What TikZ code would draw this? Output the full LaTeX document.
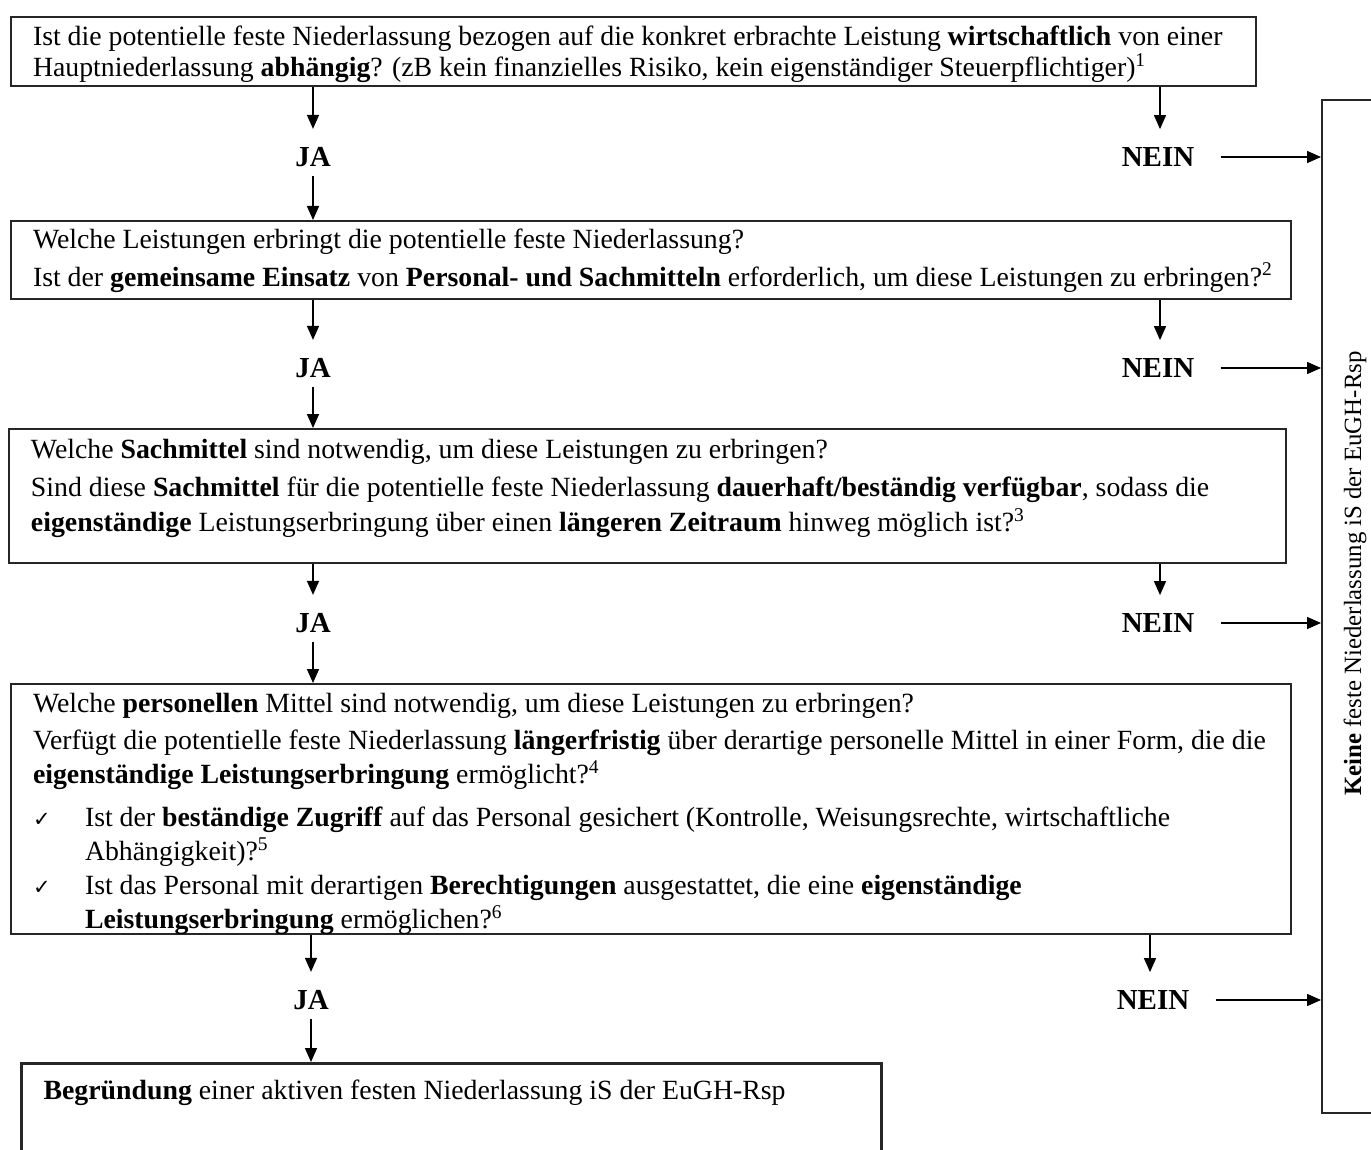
\documentclass[tikz,border=0pt]{standalone}
\usepackage{fontspec}
\setmainfont{Liberation Serif}
\newfontfamily\symfont{DejaVu Sans}
\usepackage{tikz}
\usetikzlibrary{arrows.meta,positioning}

% box content: [top gap]{height}{width}{text}
\newcommand{\feld}[4][4.4pt]{\parbox[c][#2][t]{#3}{\raggedright\leftskip=11pt\rightskip=0pt plus 1fil
  \parindent=0pt\vspace*{#1}\rule{0pt}{10pt}#4}}
\newcommand{\haken}{\makebox[26pt][l]{\symfont\fontsize{10.5}{12}\selectfont ✓}}
\newcommand{\einzug}{\hspace*{26pt}}

\begin{document}
\begin{tikzpicture}[
  x=0.5pt, y=-0.5pt,
  font=\fontsize{13.9}{15.5}\selectfont,
  frage/.style={draw=black!85,line width=1pt,anchor=north west,inner sep=0pt},
  ende/.style={frage,line width=1.6pt},
  rechts/.style={draw=black!85,line width=1pt,rotate=90,font=\fontsize{12.4}{15}\selectfont,
                 minimum width=506.5pt,minimum height=33pt},
  lbl/.style={font=\fontsize{14.5}{16}\selectfont\bfseries,inner sep=0pt},
  pfeil/.style={-{Triangle[length=7pt,width=6pt]},line width=0.75pt}]

\useasboundingbox (0,0) rectangle (1371,1150);
\clip (0,0) rectangle (1371,1150);

% ---------------- fragen ----------------
\node[frage] (q1) at (10,16) {\feld{34.5pt}{622.5pt}{%
  Ist die potentielle feste Niederlassung bezogen auf die konkret erbrachte Leistung \textbf{wirtschaftlich} von einer\\
  Hauptniederlassung \textbf{abhängig}? (zB kein finanzielles Risiko, kein eigenständiger Steuerpflichtiger)\textsuperscript{1}}};

\node[frage] (q2) at (10,220) {\feld[4pt]{39pt}{640pt}{%
  Welche Leistungen erbringt die potentielle feste Niederlassung?\\[3pt]
  Ist der \textbf{gemeinsame Einsatz} von \textbf{Personal- und Sachmitteln} erforderlich, um diese Leistungen zu erbringen?\textsuperscript{2}}};

\node[frage] (q3) at (8,428) {\feld[4.9pt]{67pt}{638.5pt}{%
  Welche \textbf{Sachmittel} sind notwendig, um diese Leistungen zu erbringen?\\[3.5pt]
  Sind diese \textbf{Sachmittel} für die potentielle feste Niederlassung \textbf{dauerhaft/beständig verfügbar}, sodass die\\[2pt]
  \textbf{eigenständige} Leistungserbringung über einen \textbf{längeren Zeitraum} hinweg möglich ist?\textsuperscript{3}}};

\node[frage] (q4) at (10,683) {\feld{125pt}{640pt}{%
  Welche \textbf{personellen} Mittel sind notwendig, um diese Leistungen zu erbringen?\\[3pt]
  Verfügt die potentielle feste Niederlassung \textbf{längerfristig} über derartige personelle Mittel in einer Form, die die\\[1.5pt]
  \textbf{eigenständige Leistungserbringung} ermöglicht?\textsuperscript{4}\\[6pt]
  \haken Ist der \textbf{beständige Zugriff} auf das Personal gesichert (Kontrolle, Weisungsrechte, wirtschaftliche\\[1.5pt]
  \einzug Abhängigkeit)?\textsuperscript{5}\\[1.5pt]
  \haken Ist das Personal mit derartigen \textbf{Berechtigungen} ausgestattet, die eine \textbf{eigenständige}\\[1.5pt]
  \einzug\textbf{Leistungserbringung} ermöglichen?\textsuperscript{6}}};

\node[ende] (ergebnis) at (20,1062) {\feld[8pt]{60pt}{430pt}{%
  \textbf{Begründung} einer aktiven festen Niederlassung iS der EuGH-Rsp}};

\node[rechts] (keine) at (1355,606.5) {\hspace*{33pt}\textbf{Keine} feste Niederlassung iS der EuGH-Rsp};

% ---------------- ja / nein ----------------
\node[lbl] (ja1)   at (313,157)  {JA};
\node[lbl] (nein1) at (1158,157) {NEIN};
\node[lbl] (ja2)   at (313,368)  {JA};
\node[lbl] (nein2) at (1158,368) {NEIN};
\node[lbl] (ja3)   at (313,623)  {JA};
\node[lbl] (nein3) at (1158,623) {NEIN};
\node[lbl] (ja4)   at (311,1000) {JA};
\node[lbl] (nein4) at (1153,1000) {NEIN};

% ---------------- pfeile ----------------
\draw[pfeil] (q1.south -| ja1) -- ([yshift=9pt]ja1.north);
\draw[pfeil] ([yshift=-4.5pt]ja1.south) -- (ja1 |- q2.north);
\draw[pfeil] (q2.south -| ja2) -- ([yshift=9pt]ja2.north);
\draw[pfeil] ([yshift=-4.5pt]ja2.south) -- (ja2 |- q3.north);
\draw[pfeil] (q3.south -| ja3) -- ([yshift=9pt]ja3.north);
\draw[pfeil] ([yshift=-4.5pt]ja3.south) -- (ja3 |- q4.north);
\draw[pfeil] (q4.south -| ja4) -- ([yshift=9pt]ja4.north);
\draw[pfeil] ([yshift=-4.5pt]ja4.south) -- (ja4 |- ergebnis.north);

\draw[pfeil] ([xshift=1pt]q1.south -| nein1) -- ([xshift=1pt,yshift=9pt]nein1.north);
\draw[pfeil] ([xshift=1pt]q2.south -| nein2) -- ([xshift=1pt,yshift=9pt]nein2.north);
\draw[pfeil] ([xshift=1pt]q3.south -| nein3) -- ([xshift=1pt,yshift=9pt]nein3.north);
\draw[pfeil] ([xshift=-1.5pt]q4.south -| nein4) -- ([xshift=-1.5pt,yshift=9pt]nein4.north);

\draw[pfeil] ([xshift=13pt]nein1.east) -- (nein1 -| keine.north);
\draw[pfeil] ([xshift=13pt]nein2.east) -- (nein2 -| keine.north);
\draw[pfeil] ([xshift=13pt]nein3.east) -- (nein3 -| keine.north);
\draw[pfeil] ([xshift=13pt]nein4.east) -- (nein4 -| keine.north);
\end{tikzpicture}
\end{document}
